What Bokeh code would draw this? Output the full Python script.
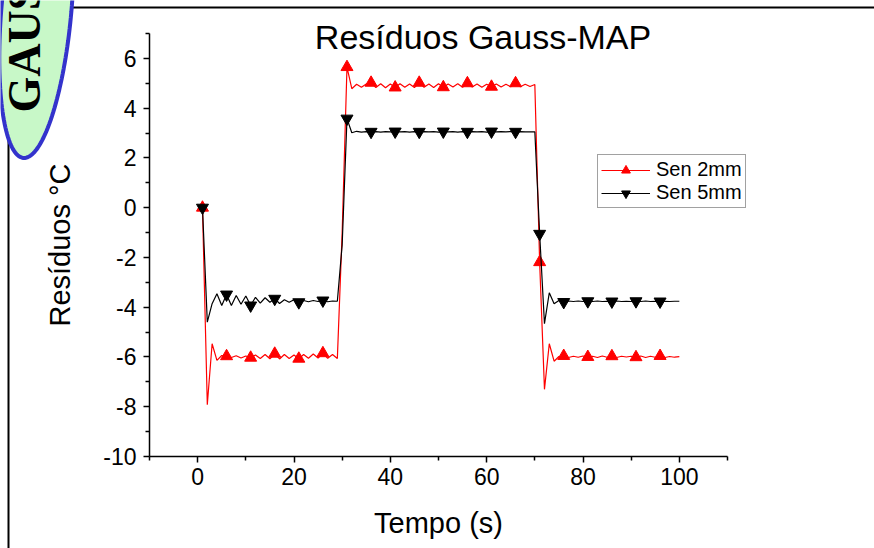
import math
from bokeh.plotting import figure
from bokeh.models import (Range1d, FixedTicker, Legend, LegendItem, Label,
                          PolyAnnotation, Arrow, ColumnDataSource, LinearAxis)
from bokeh.embed import file_html
from bokeh.resources import INLINE

# ---------------- data ----------------
tempo = list(range(1, 101))
sen_2mm = [
    0.00, -7.92, -5.47, -6.14, -5.94, -5.97, -6.02, -5.95, -6.04, -5.96,
    -6.03, -5.92, -6.06, -5.90, -6.07, -5.87, -6.08, -5.90, -6.06, -5.92,
    -6.07, -5.90, -6.05, -5.88, -6.04, -5.85, -6.05, -5.90, -6.06, -1.00,
    5.65, 4.78, 4.96, 4.84, 4.97, 5.02, 4.83, 4.98, 4.82, 4.97,
    4.83, 4.98, 4.84, 4.97, 4.83, 5.02, 4.84, 4.97, 4.83, 4.98,
    4.84, 4.97, 4.85, 4.98, 4.84, 5.00, 4.85, 4.97, 4.84, 4.96,
    4.86, 4.97, 4.85, 4.96, 4.86, 5.00, 4.86, 4.96, 4.87, 4.95,
    -2.19, -7.30, -5.47, -6.17, -5.98, -5.96, -6.02, -5.97, -6.01, -5.96,
    -6.00, -5.97, -6.02, -5.96, -6.01, -5.97, -6.02, -5.97, -6.00, -5.97,
    -6.01, -5.96, -6.02, -5.97, -6.01, -5.96, -6.02, -5.98, -6.01, -5.99,
]
sen_5mm = [
    0.00, -4.60, -3.86, -3.46, -3.93, -3.49, -3.93, -3.53, -3.88, -3.55,
    -3.93, -3.60, -3.84, -3.62, -3.80, -3.66, -3.85, -3.70, -3.80, -3.70,
    -3.80, -3.73, -3.78, -3.73, -3.77, -3.73, -3.78, -3.75, -3.76, -1.50,
    3.58, 3.01, 3.07, 3.04, 3.06, 3.05, 3.06, 3.04, 3.06, 3.05,
    3.06, 3.05, 3.06, 3.04, 3.06, 3.05, 3.06, 3.05, 3.06, 3.04,
    3.06, 3.05, 3.06, 3.04, 3.06, 3.05, 3.06, 3.05, 3.06, 3.04,
    3.06, 3.05, 3.06, 3.05, 3.06, 3.05, 3.06, 3.05, 3.05, 3.05,
    -1.05, -4.66, -3.42, -3.86, -3.73, -3.79, -3.75, -3.77, -3.75, -3.77,
    -3.76, -3.77, -3.75, -3.77, -3.76, -3.77, -3.75, -3.77, -3.76, -3.77,
    -3.76, -3.77, -3.75, -3.77, -3.76, -3.77, -3.76, -3.77, -3.76, -3.76,
]
series_names = ["Sen 2mm", "Sen 5mm"]
marker_every = 5

x_ticks = [0, 20, 40, 60, 80, 100]
x_tick_labels = ["0", "20", "40", "60", "80", "100"]
x_minor = [-10, 10, 30, 50, 70, 90, 110]
y_ticks = [-10, -8, -6, -4, -2, 0, 2, 4, 6]
y_tick_labels = ["-10", "-8", "-6", "-4", "-2", "0", "2", "4", "6"]
y_minor = [-9, -7, -5, -3, -1, 1, 3, 5, 7]

title_text = "Resíduos Gauss-MAP"
x_label = "Tempo (s)"
y_label = "Resíduos °C"
badge_text = "GAUSS"

# ---------------- layout ----------------
W, H = 874, 548
FL, FR, FT, FB = 149, 727, 33, 456   # axes box edges in page pixels
X0, X1, Y0, Y1 = -10, 110, -10, 7

def xd(px):
    return X0 + (px - FL) * (X1 - X0) / (FR - FL)

def yd(py):
    return Y1 - (py - FT) * (Y1 - Y0) / (FB - FT)

# the plotting frame covers the whole page; the axes sit at fixed locations
p = figure(width=W, height=H, output_backend="svg", toolbar_location=None,
           x_range=Range1d(xd(0), xd(W)), y_range=Range1d(yd(H), yd(0)),
           x_axis_location=None, y_axis_location=None,
           min_border=0, title=None)
p.outline_line_color = None
p.grid.visible = False
p.background_fill_color = "white"
p.border_fill_color = "white"

FONT = "Liberation Sans"
xaxis = LinearAxis(fixed_location=Y0, bounds=(X0, X1),
                   ticker=FixedTicker(ticks=x_ticks, minor_ticks=x_minor),
                   major_label_overrides=dict(zip(x_ticks, x_tick_labels)),
                   major_label_standoff=5, axis_label=x_label,
                   axis_label_standoff=19)
yaxis = LinearAxis(fixed_location=X0, bounds=(Y0, Y1),
                   ticker=FixedTicker(ticks=y_ticks, minor_ticks=y_minor),
                   major_label_overrides=dict(zip(y_ticks, y_tick_labels)),
                   major_label_standoff=7, axis_label=y_label,
                   axis_label_standoff=24)
for ax in (xaxis, yaxis):
    ax.axis_line_width = 1.5
    ax.axis_line_color = "black"
    ax.major_tick_line_width = 1.5
    ax.minor_tick_line_width = 1.5
    ax.major_tick_in = 0
    ax.major_tick_out = 6
    ax.minor_tick_in = 0
    ax.minor_tick_out = 4
    ax.major_label_text_font = FONT
    ax.major_label_text_font_size = "23px"
    ax.major_label_text_color = "black"
    ax.axis_label_text_font = FONT
    ax.axis_label_text_font_size = "29px"
    ax.axis_label_text_font_style = "normal"
    ax.axis_label_text_color = "black"
p.add_layout(xaxis, "below")
p.add_layout(yaxis, "left")

# ---------------- series ----------------
src = ColumnDataSource(dict(t=tempo, s2=sen_2mm, s5=sen_5mm))
mk = ColumnDataSource(dict(t=tempo[::marker_every], s2=sen_2mm[::marker_every],
                           s5=sen_5mm[::marker_every]))

l2 = p.line("t", "s2", source=src, line_color="#ff0000", line_width=1.2)
m2 = p.scatter("t", "s2", source=mk, marker="triangle", size=12,
               fill_color="#ff0000", line_color="#ff0000")
l5 = p.line("t", "s5", source=src, line_color="black", line_width=1.2)
m5 = p.scatter("t", "s5", source=mk, marker="inverted_triangle", size=12,
               fill_color="black", line_color="black")

legend = Legend(items=[LegendItem(label=series_names[0], renderers=[l2, m2]),
                       LegendItem(label=series_names[1], renderers=[l5, m5])],
                location=(597, H - 208), margin=0, padding=3, spacing=0,
                glyph_width=49, glyph_height=22, label_height=20,
                label_standoff=6, label_text_font=FONT,
                label_text_font_size="20px", label_text_color="black",
                border_line_color="#444444", border_line_width=1.2,
                background_fill_color="white", background_fill_alpha=1)
p.add_layout(legend)

# ---------------- title ----------------
p.add_layout(Label(x=xd(482.5), y=yd(36), text=title_text, text_align="center",
                   text_baseline="alphabetic", text_font=FONT,
                   text_font_size="34px", text_color="black"))

# ---------------- page decorations ----------------
p.add_layout(Arrow(end=None, x_start=xd(8), y_start=yd(100), x_end=xd(8), y_end=yd(560),
                   line_color="black", line_width=2))
p.add_layout(Arrow(end=None, x_start=xd(40), y_start=yd(7), x_end=xd(880), y_end=yd(7),
                   line_color="black", line_width=2))

cx, cy, a, b, tilt = 36, 8, 35, 150, math.radians(5)
exs, eys = [], []
for k in range(160):
    ph = 2 * math.pi * k / 160
    ex, ey = a * math.cos(ph), b * math.sin(ph)
    px = cx + ex * math.cos(tilt) - ey * math.sin(tilt)
    py = cy + ex * math.sin(tilt) + ey * math.cos(tilt)
    exs.append(xd(px))
    eys.append(yd(py))
p.add_layout(PolyAnnotation(xs=exs, ys=eys, fill_color="#c8f8c8", fill_alpha=1,
                            line_color="#3333cc", line_alpha=1, line_width=4))
p.add_layout(Label(x=xd(24), y=yd(112), text=badge_text, angle=math.pi / 2,
                   text_align="left", text_baseline="alphabetic",
                   text_font="Liberation Serif", text_font_style="bold",
                   text_font_size="46px", text_color="black"))

open("out.html", "w").write(file_html(p, INLINE))
